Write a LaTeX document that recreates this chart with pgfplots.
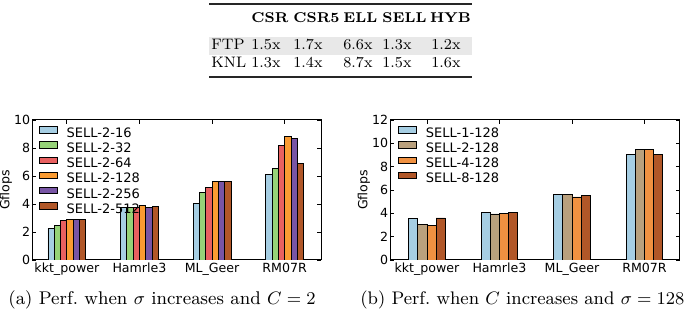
\documentclass[border=0pt]{standalone}
\usepackage{pgfplots}
\pgfplotsset{compat=1.18}
\usepackage{fontspec}
\newfontfamily\dejavu{DejaVu Sans}

\definecolor{cA}{RGB}{166,206,227}
\definecolor{cB}{RGB}{150,210,120}
\definecolor{cC}{RGB}{232,96,96}
\definecolor{cD}{RGB}{250,155,50}
\definecolor{cE}{RGB}{120,85,165}
\definecolor{cF}{RGB}{177,87,40}
\definecolor{cTan}{RGB}{185,160,125}
\definecolor{cOr}{RGB}{240,145,65}

\pgfplotsset{
  mystyle/.style={
    ybar,
    scale only axis, width=144.5pt, height=70pt,
    axis line style={line width=0.5pt},
    tick align=inside, major tick length=2pt,
    tick style={black, line width=0.4pt},
    xtick={0,1,2,3},
    xticklabels={kkt\_power,Hamrle3,ML\_Geer,RM07R},
    ymin=0, ytick distance=2,
    ticklabel style={font=\dejavu\fontsize{6.3}{7}\selectfont},
    /pgf/number format/assume math mode=true,
    xticklabel style={inner sep=1.5pt},
    yticklabel style={inner sep=0.7pt},
    ylabel=Gflops,
    ylabel style={font=\dejavu\fontsize{6.3}{7}\selectfont, at={(rel axis cs:-0.09,0.5)}, anchor=center},
    legend image code/.code={\draw[##1] (0pt,0.77pt) rectangle (9pt,3.97pt);},
    legend cell align=left,
    legend style={draw=none, fill=none, anchor=north west, inner sep=0pt, outer sep=0pt, row sep=0pt,
      font=\dejavu\fontsize{6.5}{7}\selectfont,
      nodes={inner sep=0pt, text height=4.75pt, text depth=2.1pt},
      /tikz/every odd column/.append style={column sep=4.5pt}},
  },
  barL/.style={fill=#1, draw=black, line width=0.4pt, bar width=0.087},
  barR/.style={fill=#1, draw=black, line width=0.4pt, bar width=0.127},
}

\begin{document}
\begin{tikzpicture}
\path[use as bounding box] (0,0) rectangle (343pt,157pt);

% ---- table ----
\fill[black!9] (104.5pt,129.5pt) rectangle (236pt,138.5pt);
\draw[line width=1pt, black!85] (104.5pt,155pt) -- (236pt,155pt);
\draw[line width=1pt, black!85] (104.5pt,118.5pt) -- (236pt,118.5pt);
\begin{scope}[every node/.style={anchor=base west, inner sep=0pt, font=\fontsize{7.6}{9}\selectfont}]
\node[font=\fontsize{7.1}{9}\selectfont\bfseries] at (125.5pt,145.5pt) {CSR};
\node[font=\fontsize{7.1}{9}\selectfont\bfseries] at (146.5pt,145.5pt) {CSR5};
\node[font=\fontsize{7.1}{9}\selectfont\bfseries] at (171.5pt,145.5pt) {ELL};
\node[font=\fontsize{7.1}{9}\selectfont\bfseries] at (191pt,145.5pt) {SELL};
\node[font=\fontsize{7.1}{9}\selectfont\bfseries] at (214.8pt,145.5pt) {HYB};
\node at (105.5pt,132pt) {FTP};
\node at (125.5pt,132pt) {1.5x};
\node at (146.5pt,132pt) {1.7x};
\node at (171.5pt,132pt) {6.6x};
\node at (191pt,132pt) {1.3x};
\node at (215.5pt,132pt) {1.2x};
\node at (105.5pt,123pt) {KNL};
\node at (125.5pt,123pt) {1.3x};
\node at (146.5pt,123pt) {1.4x};
\node at (171.5pt,123pt) {8.7x};
\node at (191pt,123pt) {1.5x};
\node at (215.5pt,123pt) {1.6x};
\end{scope}

% ---- left chart ----
\begin{axis}[mystyle, at={(16pt,27pt)}, anchor=south west,
  xmin=-0.48, xmax=3.5, ymax=10,
  legend style={at={(rel axis cs:0.024,0.955)}}]
\addplot[barL=cA, bar shift=-0.2175] coordinates {(0,2.25) (1,3.75) (2,4.05) (3,6.1)};
\addplot[barL=cB, bar shift=-0.1305] coordinates {(0,2.45) (1,3.75) (2,4.85) (3,6.55)};
\addplot[barL=cC, bar shift=-0.0435] coordinates {(0,2.85) (1,3.75) (2,5.15) (3,8.2)};
\addplot[barL=cD, bar shift=0.0435] coordinates {(0,2.9) (1,3.9) (2,5.6) (3,8.8)};
\addplot[barL=cE, bar shift=0.1305] coordinates {(0,2.9) (1,3.75) (2,5.6) (3,8.7)};
\addplot[barL=cF, bar shift=0.2175] coordinates {(0,2.9) (1,3.85) (2,5.6) (3,6.9)};
\legend{SELL-2-16,SELL-2-32,SELL-2-64,SELL-2-128,SELL-2-256,SELL-2-512}
\end{axis}

% ---- right chart ----
\begin{axis}[mystyle, at={(195pt,27pt)}, anchor=south west, width=145pt,
  xmin=-0.51, xmax=3.49, ymax=12,
  ylabel style={at={(rel axis cs:-0.0897,0.5)}},
  legend style={at={(rel axis cs:0.028,0.955)}}]
\addplot[barR=cA, bar shift=-0.1905] coordinates {(0,3.55) (1,4.1) (2,5.6) (3,9.05)};
\addplot[barR=cTan, bar shift=-0.0635] coordinates {(0,3.05) (1,3.95) (2,5.6) (3,9.45)};
\addplot[barR=cOr, bar shift=0.0635] coordinates {(0,2.95) (1,4.0) (2,5.4) (3,9.5)};
\addplot[barR=cF, bar shift=0.1905] coordinates {(0,3.6) (1,4.1) (2,5.5) (3,9.05)};
\legend{SELL-1-128,SELL-2-128,SELL-4-128,SELL-8-128}
\end{axis}

% ---- captions ----
\node[anchor=base west, inner sep=0pt, font=\fontsize{9.2}{11}\selectfont] at (4pt,4.5pt) {(a) Perf.\ when $\sigma$ increases and $C=2$};
\node[anchor=base west, inner sep=0pt, font=\fontsize{9.1}{11}\selectfont] at (180pt,4.5pt) {(b) Perf.\ when $C$ increases and $\sigma=128$};
\end{tikzpicture}
\end{document}
